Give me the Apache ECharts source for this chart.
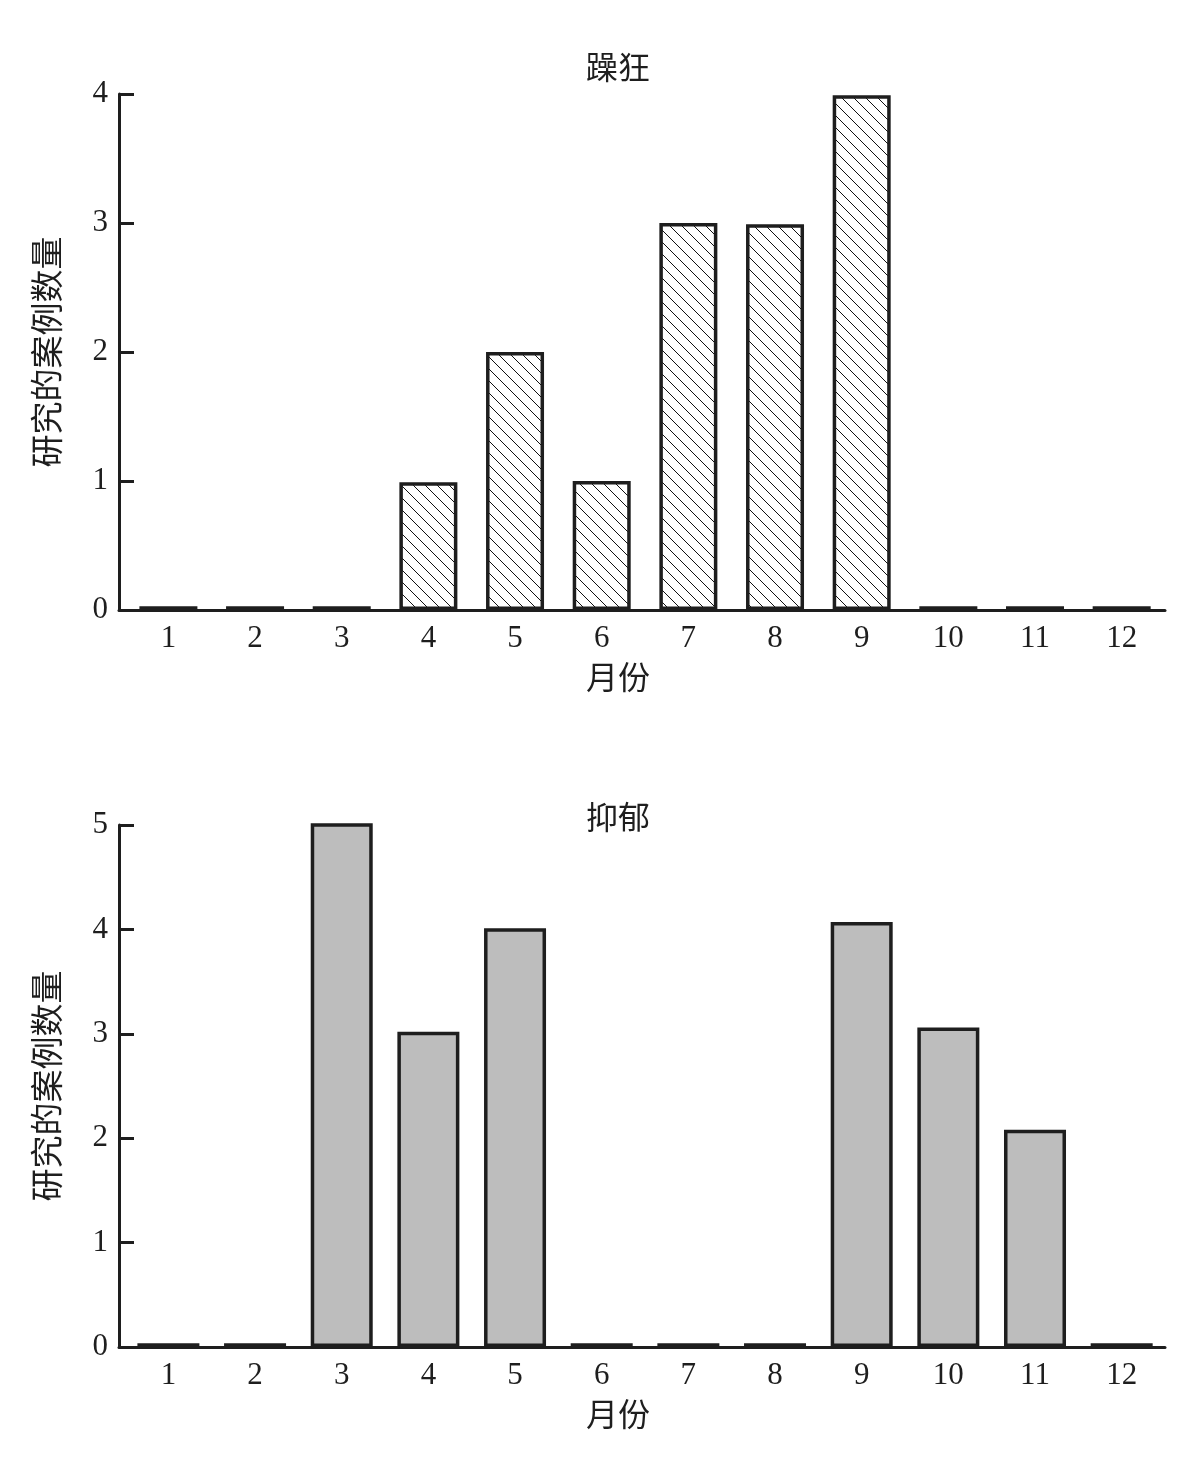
<!DOCTYPE html>
<html>
<head>
<meta charset="utf-8">
<script src="https://cdn.jsdelivr.net/npm/echarts@6/dist/echarts.min.js"></script>
<style>
html,body{margin:0;padding:0;background:#fff;}
#chart{width:1201px;height:1469px;}
</style>
</head>
<body>
<div id="chart"></div>
<script>
// ---- data ----
const months = [1, 2, 3, 4, 5, 6, 7, 8, 9, 10, 11, 12];
const maniaTitle = '躁狂';
const depressionTitle = '抑郁';
const xName = '月份';
const yName = '研究的案例数量';
const maniaValues = [0.03, 0.03, 0.03, 0.99, 2.0, 1.0, 3.0, 2.99, 3.99, 0.03, 0.03, 0.03];
const depressionValues = [0.035, 0.035, 5.03, 3.02, 4.01, 0.035, 0.035, 0.035, 4.07, 3.06, 2.08, 0.035];
const maniaMax = 4;
const depressionMax = 5;

// ---- styles ----
const FONT = '"Liberation Serif", "Noto Sans CJK SC", serif';
const INK = '#1e1e1e';

function hatchPattern() {
  const s = 12;
  const c = document.createElement('canvas');
  c.width = s; c.height = s;
  const g = c.getContext('2d');
  g.fillStyle = '#fff';
  g.fillRect(0, 0, s, s);
  g.strokeStyle = '#111';
  g.lineWidth = 1;
  g.beginPath();
  g.moveTo(-2, -2); g.lineTo(s + 2, s + 2);
  g.moveTo(-2, s - 2); g.lineTo(2, s + 2);
  g.moveTo(s - 2, -2); g.lineTo(s + 2, 2);
  g.stroke();
  return c;
}

const chart = echarts.init(document.getElementById('chart'), null, {renderer: 'canvas'});

function xAxisFor(gridIndex) {
  return {
    gridIndex: gridIndex,
    type: 'value',
    min: 0.43,
    max: 12.5,
    name: xName,
    nameLocation: 'middle',
    nameGap: 55,
    nameTextStyle: {fontFamily: FONT, fontSize: 32, color: INK, padding: [0, 48, 0, 0]},
    axisLine: {show: true, onZero: false, lineStyle: {color: INK, width: 3}},
    axisTick: {show: false},
    splitLine: {show: false},
    axisLabel: {
      customValues: months,
      margin: 13,
      fontFamily: FONT, fontSize: 31, color: INK,
      formatter: v => String(v)
    }
  };
}
function yAxisFor(gridIndex, max) {
  return {
    gridIndex: gridIndex,
    type: 'value',
    min: 0,
    max: max,
    interval: 1,
    name: yName,
    nameLocation: 'middle',
    nameRotate: 90,
    nameGap: 52,
    nameTextStyle: {fontFamily: FONT, fontSize: 33, color: INK},
    axisLine: {show: true, lineStyle: {color: INK, width: 3}},
    axisTick: {show: true, inside: true, length: 15, lineStyle: {color: INK, width: 3}},
    splitLine: {show: false},
    axisLabel: {margin: 11, fontFamily: FONT, fontSize: 31, color: INK}
  };
}

const option = {
  backgroundColor: '#fff',
  animation: false,
  title: [
    {text: maniaTitle, left: 613, top: 50, textAlign: 'center',
     textStyle: {fontFamily: FONT, fontSize: 32, fontWeight: 'normal', color: INK}},
    {text: depressionTitle, left: 613, top: 800, textAlign: 'center',
     textStyle: {fontFamily: FONT, fontSize: 32, fontWeight: 'normal', color: INK}}
  ],
  grid: [
    {left: 119, top: 94, width: 1046, height: 516},
    {left: 119, top: 825, width: 1046, height: 522}
  ],
  xAxis: [xAxisFor(0), xAxisFor(1)],
  yAxis: [yAxisFor(0, maniaMax), yAxisFor(1, depressionMax)],
  series: [
    {
      name: maniaTitle, type: 'bar', xAxisIndex: 0, yAxisIndex: 0,
      barWidth: 58,
      itemStyle: {color: {image: hatchPattern(), repeat: 'repeat'}, borderColor: INK, borderWidth: 3.5},
      data: months.map((m, i) => [m, maniaValues[i]])
    },
    {
      name: depressionTitle, type: 'bar', xAxisIndex: 1, yAxisIndex: 1,
      barWidth: 62,
      itemStyle: {color: '#bdbdbd', borderColor: INK, borderWidth: 3.5},
      data: months.map((m, i) => [m, depressionValues[i]])
    }
  ]
};
chart.setOption(option);
</script>
</body>
</html>
